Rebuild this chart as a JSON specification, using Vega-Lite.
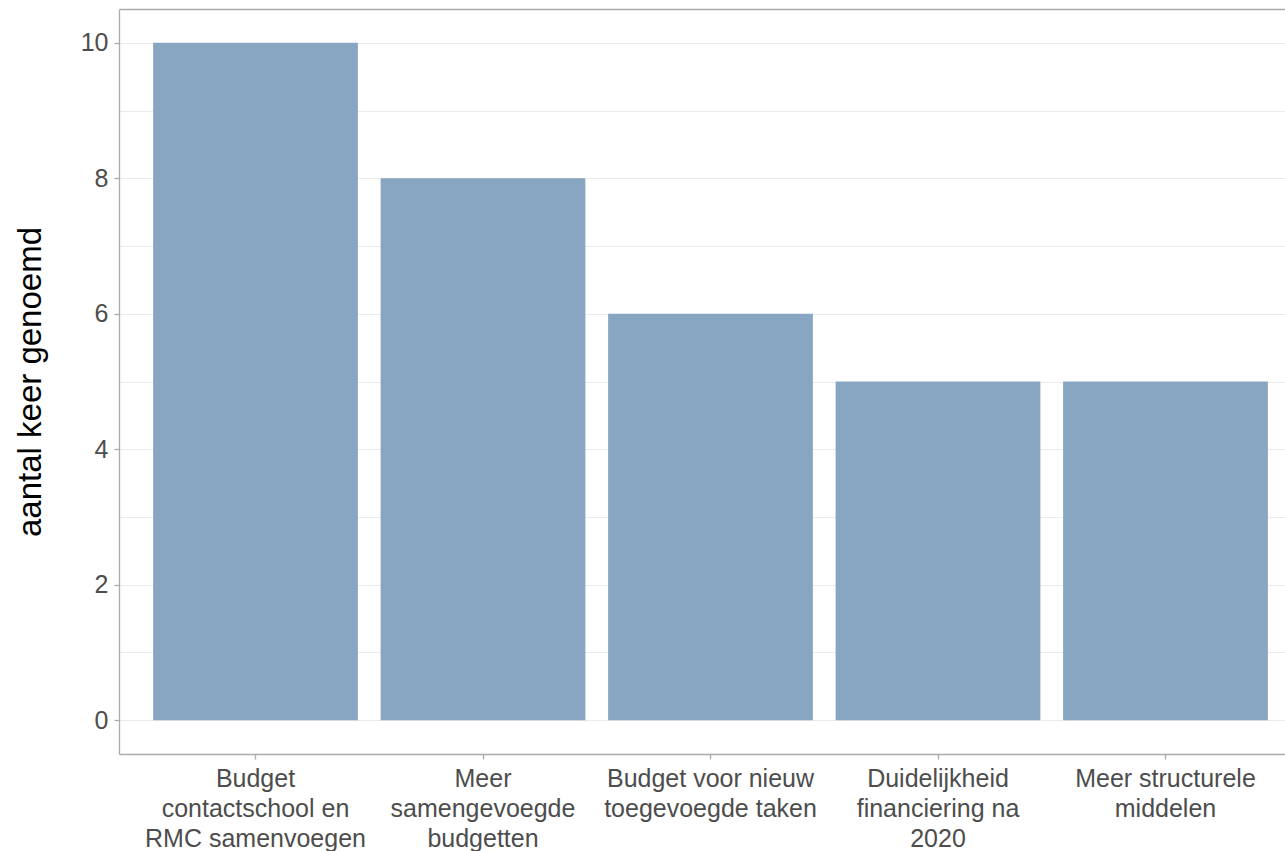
{
  "$schema": "https://vega.github.io/schema/vega-lite/v6.json",
  "autosize": {"type": "none"},
  "padding": {"left": 119, "top": 9, "right": 0, "bottom": 97},
  "width": 1166,
  "height": 745,
  "background": "white",
  "config": {
    "view": {"stroke": null},
    "font": "Liberation Sans"
  },
  "data": {
    "values": [
      {"categorie": "Budget contactschool en RMC samenvoegen", "aantal": 10},
      {"categorie": "Meer samengevoegde budgetten", "aantal": 8},
      {"categorie": "Budget voor nieuw toegevoegde taken", "aantal": 6},
      {"categorie": "Duidelijkheid financiering na 2020", "aantal": 5},
      {"categorie": "Meer structurele middelen", "aantal": 5}
    ]
  },
  "mark": {"type": "bar", "color": "#88a5c1"},
  "encoding": {
    "x": {
      "field": "categorie",
      "type": "nominal",
      "sort": null,
      "title": null,
      "scale": {"range": [0, 1183], "paddingInner": 0.1, "paddingOuter": 0.15},
      "axis": {
        "labelAngle": 0,
        "labelFont": "Liberation Sans",
        "labelFontSize": 25,
        "labelColor": "#4d4d4d",
        "labelLineHeight": 30,
        "labelPadding": 7,
        "labelLimit": 0,
        "labelExpr": "datum.value == 'Budget contactschool en RMC samenvoegen' ? ['Budget', 'contactschool en', 'RMC samenvoegen'] : datum.value == 'Meer samengevoegde budgetten' ? ['Meer', 'samengevoegde', 'budgetten'] : datum.value == 'Budget voor nieuw toegevoegde taken' ? ['Budget voor nieuw', 'toegevoegde taken'] : datum.value == 'Duidelijkheid financiering na 2020' ? ['Duidelijkheid', 'financiering na', '2020'] : ['Meer structurele', 'middelen']",
        "tickColor": "#aaaaaa",
        "tickSize": 5,
        "tickWidth": 1.3,
        "domainColor": "#aaaaaa",
        "domainWidth": 1.3,
        "grid": false
      }
    },
    "y": {
      "field": "aantal",
      "type": "quantitative",
      "title": "aantal keer genoemd",
      "scale": {"domain": [-0.5, 10.5], "nice": false, "zero": false},
      "axis": {
        "values": [0, 1, 2, 3, 4, 5, 6, 7, 8, 9, 10, 10.5],
        "labelExpr": "datum.value % 2 == 0 ? datum.label : ''",
        "labelFont": "Liberation Sans",
        "labelFontSize": 25,
        "labelColor": "#4d4d4d",
        "labelPadding": 6,
        "tickColor": "#aaaaaa",
        "tickSize": 5,
        "tickWidth": 1.3,
        "tickOpacity": {"condition": {"test": "datum.value % 2 != 0", "value": 0}, "value": 1},
        "domainColor": "#aaaaaa",
        "domainWidth": 1.3,
        "grid": true,
        "gridColor": {"condition": {"test": "datum.value == 10.5", "value": "#aaaaaa"}, "value": "#ebebeb"},
        "gridWidth": {"condition": {"test": "datum.value == 10.5", "value": 1.3}, "value": 1},
        "titleFont": "Liberation Sans",
        "titleFontSize": 33,
        "titleFontWeight": "normal",
        "titleColor": "#000000",
        "titlePadding": 33
      }
    },
    "y2": {"datum": 0}
  }
}
